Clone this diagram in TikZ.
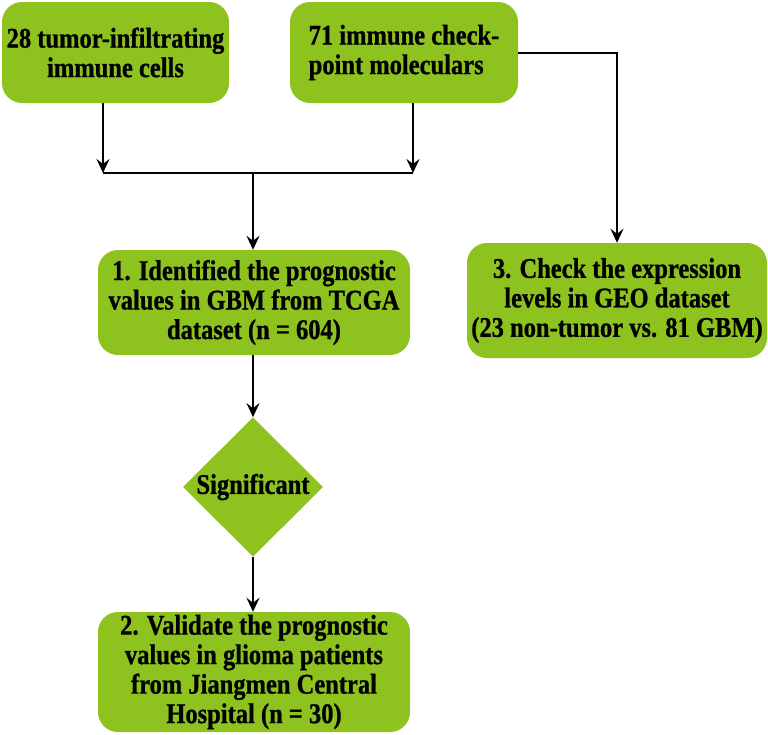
\documentclass[tikz,border=0pt]{standalone}
\usepackage{fontspec}
\newfontfamily\boxfam[FakeStretch=0.86,BoldFeatures={FakeBold=0.8}]{Liberation Serif}
\usetikzlibrary{shapes.geometric,arrows.meta}
\definecolor{boxgreen}{RGB}{141,194,31}
\tikzset{
  x=1pt, y=-1pt,
  boxfont/.style={font=\boxfam\fontsize{28.5}{29.5}\selectfont\bfseries},
  gbox/.style={draw=none, fill=boxgreen, rounded corners=20pt, inner sep=0pt,
    boxfont, align=center},
  gdia/.style={draw=none, fill=boxgreen, diamond, inner sep=0pt, boxfont},
  conn/.style={line width=2pt, black},
  arr/.style={conn, -{Stealth[length=14pt,width=13pt,inset=5pt]}}
}
\begin{document}
\begin{tikzpicture}
\useasboundingbox (0,0) rectangle (768,734);
\node[gbox, minimum width=227pt, minimum height=101pt] (A) at (115.5,52.5)
  {28 tumor-infiltrating\\immune cells};
\node[gbox, minimum width=228pt, minimum height=101pt, align=left] (B) at (404,52.5)
  {71 immune check-\\point moleculars};
\node[gbox, minimum width=312pt, minimum height=105pt] (C1) at (254,302.5)
  {1. Identified the prognostic\\values in GBM from TCGA\\dataset (n = 604)};
\node[gbox, minimum width=300pt, minimum height=115pt] (C3) at (617,300.5)
  {3. Check the expression\\levels in GEO dataset\\(23 non-tumor vs. 81 GBM)};
\node[gdia, minimum width=140pt, minimum height=137pt] (D) at (253,487) {Significant};
\node[gbox, minimum width=312pt, minimum height=120pt] (C2) at (254,672)
  {2. Validate the prognostic\\values in glioma patients\\from Jiangmen Central\\Hospital (n = 30)};
\coordinate (jl) at (103,173);
\coordinate (jr) at (413,173);
\coordinate (jm) at (253,173);
\draw[arr] (A.south -| jl) -- (jl);
\draw[arr] (B.south -| jr) -- (jr);
\draw[conn] (jl) -- (jr);
\draw[arr] (jm) -- (jm |- C1.north);
\draw[arr] (B.east) -- (B.east -| C3.north) -- (C3.north);
\draw[arr] (C1.south -| D.north) -- (D.north);
\draw[arr] (D.south) -- (D.south |- C2.north);
\end{tikzpicture}
\end{document}
